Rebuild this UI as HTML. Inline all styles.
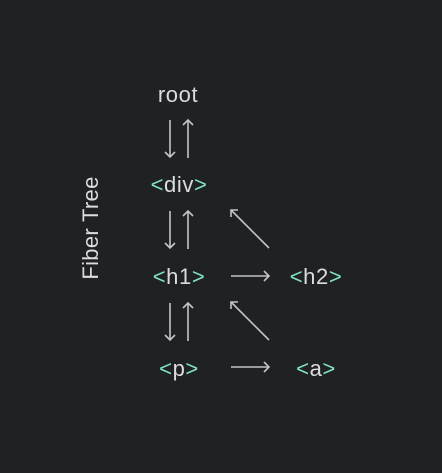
<!DOCTYPE html>
<html><head><style>
html,body{margin:0;padding:0;background:#202124;}
body{width:442px;height:473px;overflow:hidden;}
svg{display:block}
text{font-family:"Liberation Sans",sans-serif;font-size:22px;fill:#dcdcdc;letter-spacing:0.6px;}
.b{fill:#7fe3c4;}
</style></head><body>
<svg width="442" height="473" viewBox="0 0 442 473">
<rect width="442" height="473" fill="#202124"/>
<text x="0" y="0" transform="translate(98,228) rotate(-90)" text-anchor="middle" style="letter-spacing:0.3px">Fiber Tree</text>
<text x="178" y="102" text-anchor="middle">root</text>
<text x="179" y="192" text-anchor="middle"><tspan class="b">&lt;</tspan>div<tspan class="b">&gt;</tspan></text>
<text x="179" y="284" text-anchor="middle"><tspan class="b">&lt;</tspan>h1<tspan class="b">&gt;</tspan></text>
<text x="316" y="284" text-anchor="middle"><tspan class="b">&lt;</tspan>h2<tspan class="b">&gt;</tspan></text>
<text x="179" y="376" text-anchor="middle"><tspan class="b">&lt;</tspan>p<tspan class="b">&gt;</tspan></text>
<text x="316" y="376" text-anchor="middle"><tspan class="b">&lt;</tspan>a<tspan class="b">&gt;</tspan></text>
<g stroke="#c4c4c4" stroke-width="1.6" fill="none">
<g id="pair">
<path d="M170 120V157M165 152L170 157L175 152"/>
<path d="M188 158V120M183 125L188 120L193 125"/>
</g>
<use href="#pair" y="91"/>
<use href="#pair" y="183"/>
<g id="diag"><path d="M269 248L231 210M231 217V210H238"/></g>
<use href="#diag" y="92"/>
<path d="M231 276H269M264 271L269 276L264 281"/>
<path d="M231 367H269M264 362L269 367L264 372"/>
</g>
</svg>
</body></html>
